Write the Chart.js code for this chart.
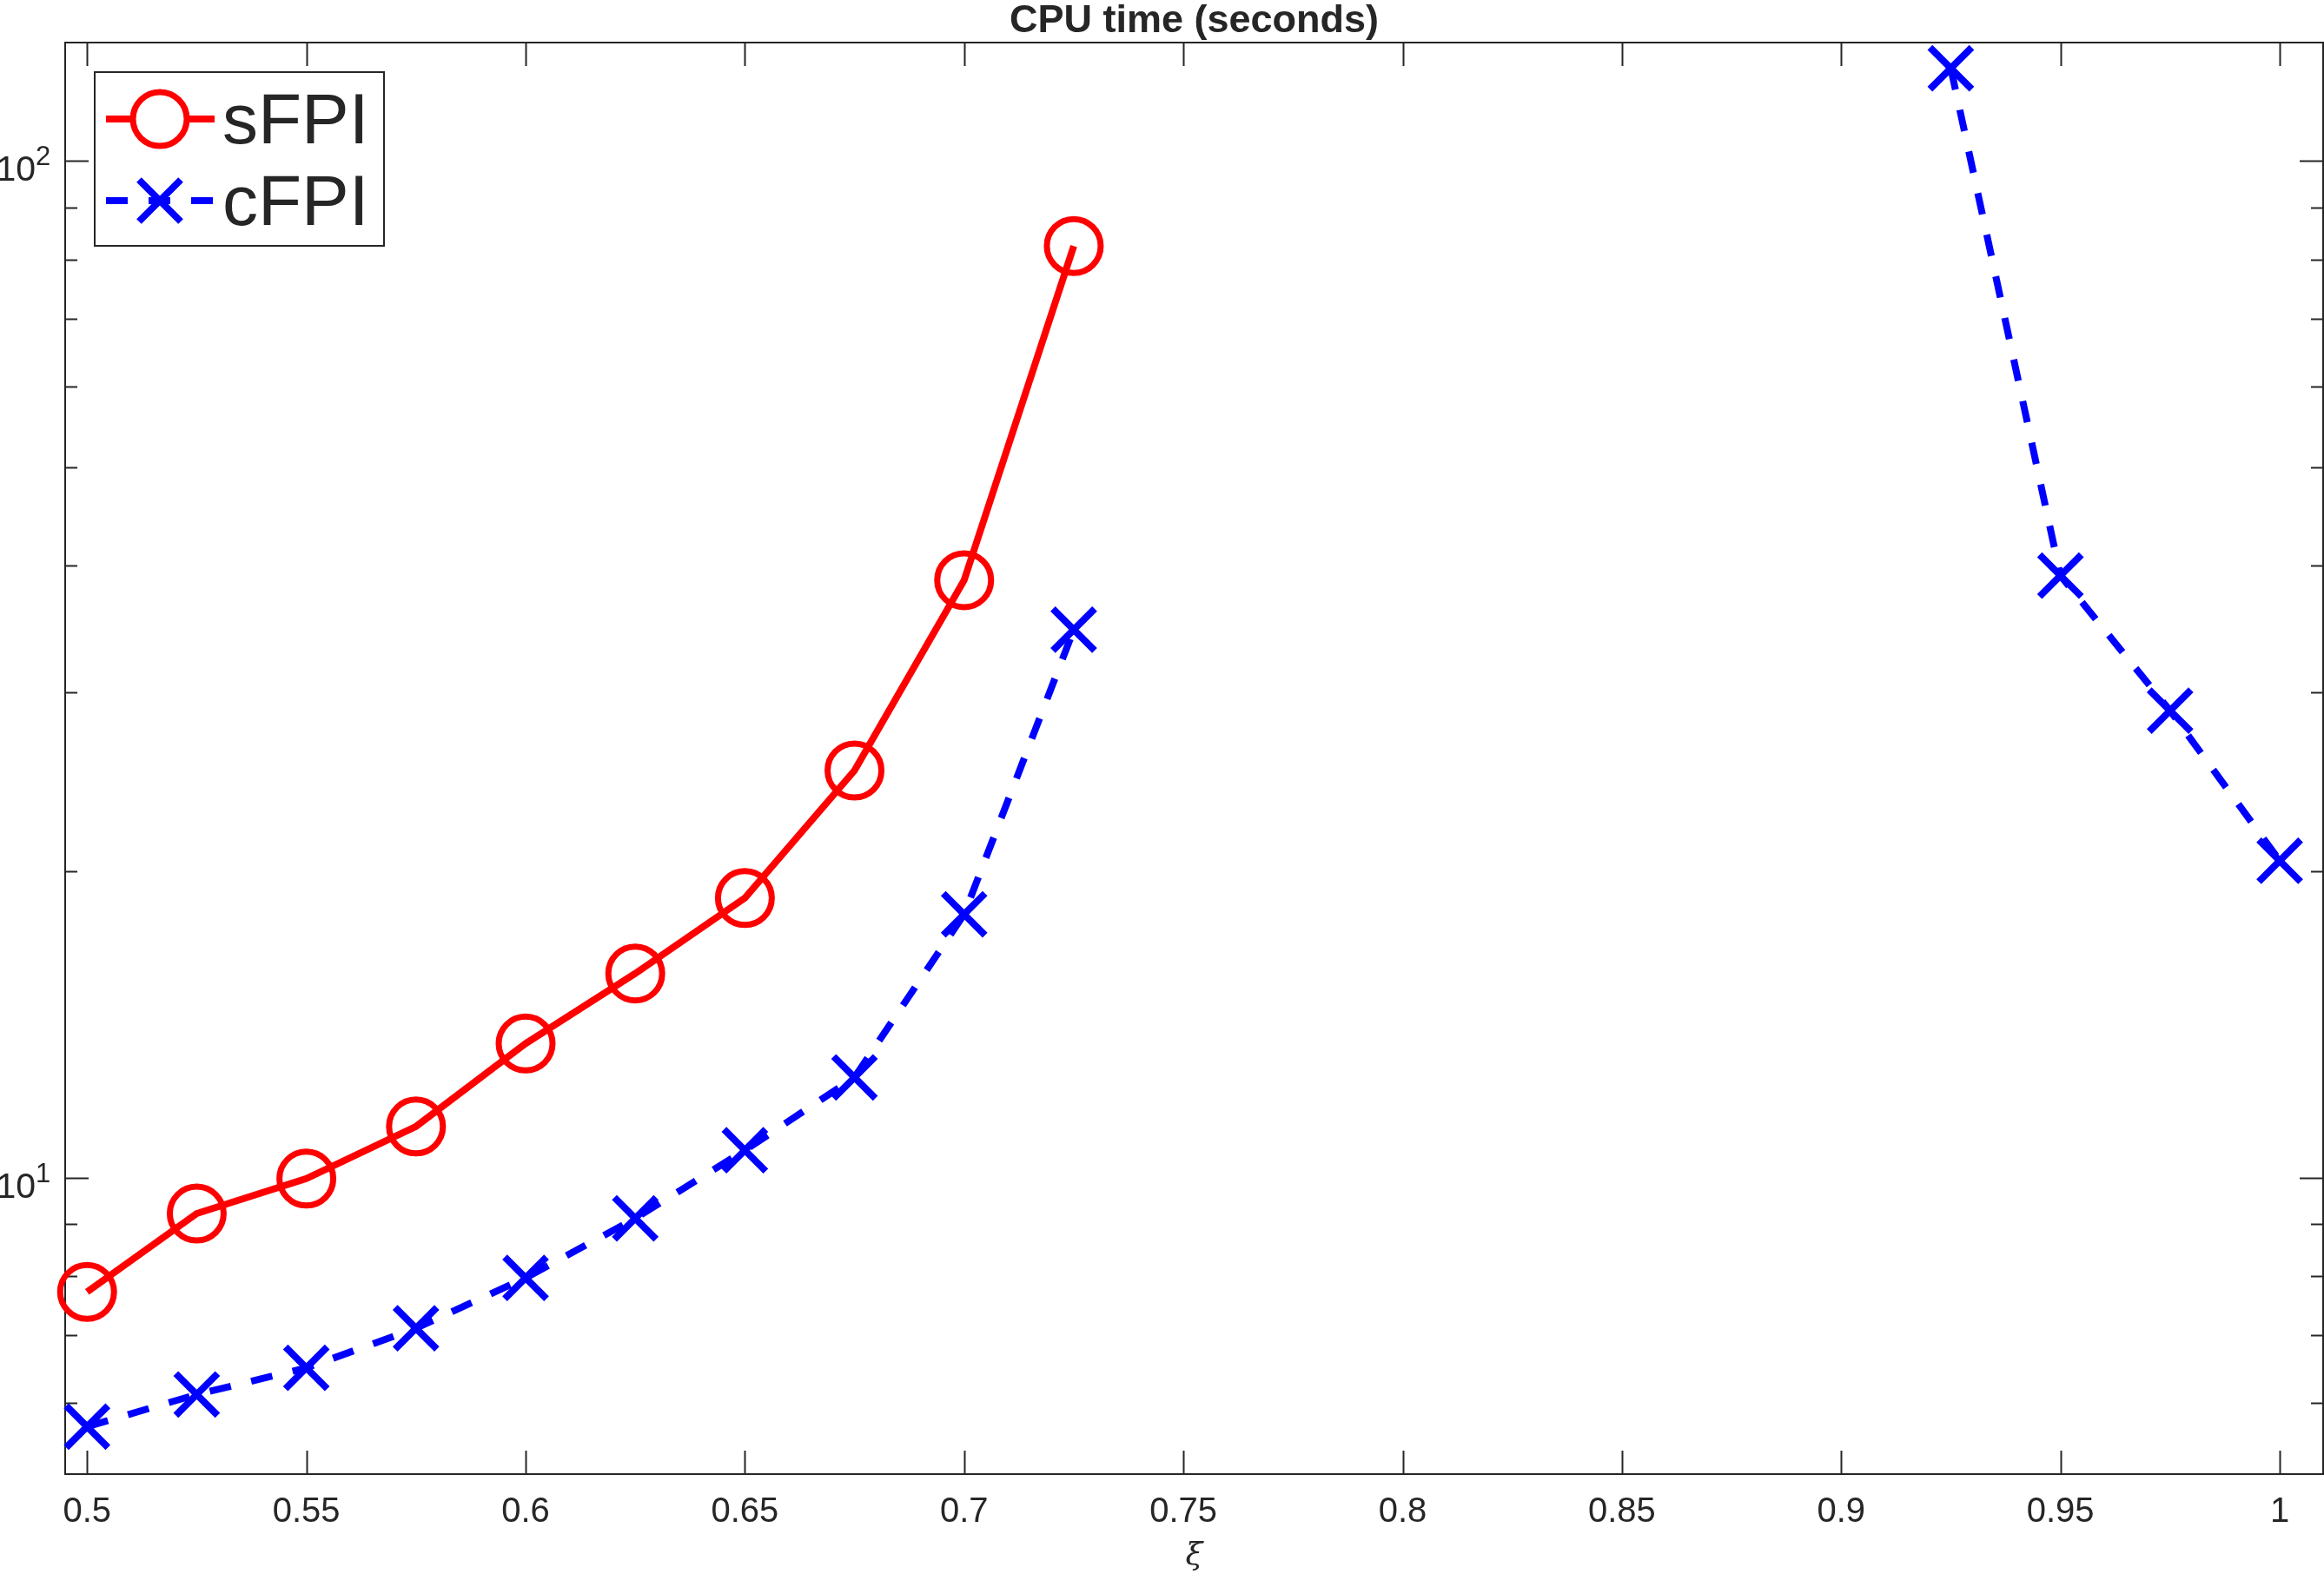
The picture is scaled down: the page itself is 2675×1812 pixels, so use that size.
<!doctype html>
<html lang="en">
<head>
<meta charset="utf-8">
<title>CPU time (seconds)</title>
<script src="https://cdn.jsdelivr.net/npm/chart.js@4.4.0/dist/chart.umd.min.js"></script>
<style>
  html, body { margin: 0; padding: 0; background: #fff; }
  canvas { display: block; }
</style>
</head>
<body>
<canvas id="cpu" width="2675" height="1812"></canvas>
<script>
// xi values on the horizontal axis
var xi = [0.5, 0.525, 0.55, 0.575, 0.6, 0.625, 0.65, 0.675, 0.7, 0.725,
          0.75, 0.775, 0.8, 0.825, 0.85, 0.875, 0.9, 0.925, 0.95, 0.975, 1.0];

// CPU time (seconds), null = no run
var sFPI = [7.72, 9.22, 9.98, 11.23, 13.55, 15.88, 18.84, 25.15, 38.7, 82.5,
            null, null, null, null, null, null, null, null, null, null, null];
var cFPI = [5.69, 6.12, 6.50, 7.11, 7.97, 9.12, 10.64, 12.55, 18.16, 34.6,
            null, null, null, null, null, null, null, 123.4, 39.1, 28.8, 20.5];

var xTicks = [0.5, 0.55, 0.6, 0.65, 0.7, 0.75, 0.8, 0.85, 0.9, 0.95, 1];
var xTickLabels = ['0.5', '0.55', '0.6', '0.65', '0.7', '0.75', '0.8', '0.85', '0.9', '0.95', '1'];
var yMajor = [10, 100];
var yMajorExp = ['1', '2'];
var yMinor = [6, 7, 8, 9, 20, 30, 40, 50, 60, 70, 80, 90];

var ink = '#262626';
var font = '"Liberation Sans", Arial, Helvetica, sans-serif';

function pts(ys) {
  return xi.map(function (x, i) { return { x: x, y: ys[i] }; });
}

// matlab style box, inward ticks, labels, title and legend
var matlabAxes = {
  id: 'matlabAxes',
  beforeDatasetsDraw: function (chart) {
    var ctx = chart.ctx, a = chart.chartArea;
    var xs = chart.scales.x, ys = chart.scales.y;
    ctx.save();
    ctx.strokeStyle = ink;
    ctx.lineWidth = 2;
    ctx.strokeRect(a.left, a.top, a.right - a.left, a.bottom - a.top);
    ctx.beginPath();
    xTicks.forEach(function (v) {
      var px = Math.round(xs.getPixelForValue(v)) + 0.5;
      ctx.moveTo(px, a.bottom); ctx.lineTo(px, a.bottom - 27);
      ctx.moveTo(px, a.top); ctx.lineTo(px, a.top + 27);
    });
    yMajor.forEach(function (v) {
      var py = Math.round(ys.getPixelForValue(v)) + 0.5;
      ctx.moveTo(a.left, py); ctx.lineTo(a.left + 27, py);
      ctx.moveTo(a.right, py); ctx.lineTo(a.right - 27, py);
    });
    yMinor.forEach(function (v) {
      var py = Math.round(ys.getPixelForValue(v)) + 0.5;
      ctx.moveTo(a.left, py); ctx.lineTo(a.left + 14, py);
      ctx.moveTo(a.right, py); ctx.lineTo(a.right - 14, py);
    });
    ctx.stroke();
    ctx.restore();
  },
  afterDraw: function (chart) {
    var ctx = chart.ctx, a = chart.chartArea;
    var xs = chart.scales.x, ys = chart.scales.y;
    ctx.save();
    ctx.fillStyle = ink;

    // x tick labels
    ctx.font = '40px ' + font;
    ctx.textAlign = 'center';
    ctx.textBaseline = 'alphabetic';
    xTicks.forEach(function (v, i) {
      ctx.fillText(xTickLabels[i], xs.getPixelForValue(v), a.bottom + 55);
    });

    // y tick labels 10^n
    yMajor.forEach(function (v, i) {
      var py = ys.getPixelForValue(v);
      ctx.font = '41px ' + font;
      ctx.textAlign = 'right';
      ctx.fillText('10', 41, py + 23);
      ctx.font = '31px ' + font;
      ctx.textAlign = 'left';
      ctx.fillText(yMajorExp[i], 41, py + 5);
    });

    // title
    ctx.font = 'bold 45px ' + font;
    ctx.textAlign = 'center';
    ctx.fillText('CPU time (seconds)', (a.left + a.right) / 2, 37);

    // x axis label
    ctx.font = 'italic 36px "DejaVu Serif", serif';
    ctx.fillText('\u03be', (a.left + a.right) / 2, 1801);

    // legend
    ctx.fillStyle = '#fff';
    ctx.fillRect(109, 83, 333, 200);
    ctx.strokeStyle = ink;
    ctx.lineWidth = 2;
    ctx.strokeRect(109, 83, 333, 200);
    var rows = [137, 231];
    chart.data.datasets.forEach(function (ds, i) {
      var y = rows[i];
      ctx.strokeStyle = ds.borderColor;
      ctx.lineWidth = ds.borderWidth;
      ctx.setLineDash(ds.borderDash || []);
      ctx.beginPath();
      ctx.moveTo(122, y); ctx.lineTo(247, y);
      ctx.stroke();
      ctx.setLineDash([]);
      ctx.lineWidth = ds.pointBorderWidth;
      Chart.helpers.drawPoint(ctx, {
        pointStyle: ds.pointStyle,
        radius: ds.pointRadius,
        borderWidth: ds.pointBorderWidth,
        rotation: 0
      }, 184, y);
      ctx.fillStyle = ink;
      ctx.font = '82px ' + font;
      ctx.textAlign = 'left';
      ctx.fillText(ds.label, 256, y + 28);
    });
    ctx.restore();
  }
};

new Chart(document.getElementById('cpu'), {
  type: 'line',
  data: {
    datasets: [
      {
        label: 'sFPI',
        data: pts(sFPI),
        borderColor: '#ff0000',
        borderWidth: 8,
        pointStyle: 'circle',
        pointRadius: 31,
        pointBorderWidth: 7,
        pointBorderColor: '#ff0000',
        pointBackgroundColor: 'rgba(0,0,0,0)',
        tension: 0,
        spanGaps: false,
        clip: false
      },
      {
        label: 'cFPI',
        data: pts(cFPI),
        borderColor: '#0000ff',
        borderWidth: 8,
        borderDash: [25, 24],
        pointStyle: 'crossRot',
        pointRadius: 34,
        pointBorderWidth: 8,
        pointBorderColor: '#0000ff',
        pointBackgroundColor: 'rgba(0,0,0,0)',
        tension: 0,
        spanGaps: false,
        clip: false
      }
    ]
  },
  options: {
    responsive: false,
    devicePixelRatio: 1,
    animation: false,
    events: [],
    layout: { autoPadding: false, padding: { left: 75, top: 49, right: 1, bottom: 115 } },
    plugins: { legend: { display: false }, tooltip: { enabled: false }, title: { display: false } },
    scales: {
      x: { type: 'linear', display: false, min: 0.495, max: 1.0099 },
      y: { type: 'logarithmic', display: false, min: 5.11, max: 130.8 }
    }
  },
  plugins: [matlabAxes]
});
</script>
</body>
</html>
